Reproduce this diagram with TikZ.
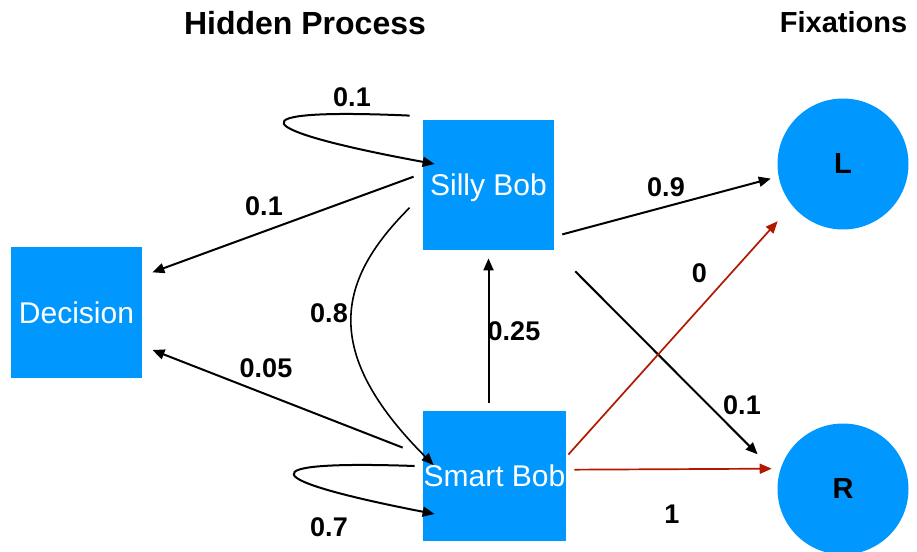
\documentclass[tikz,border=0pt]{standalone}
\usepackage{fontspec}
\setmainfont{Liberation Sans}
\usetikzlibrary{arrows.meta}

\definecolor{bobblue}{RGB}{0,152,255}
\definecolor{fixred}{RGB}{178,24,0}

\begin{document}
\begin{tikzpicture}[x=0.5pt,y=-0.5pt,
  lbl/.style={font=\fontsize{13.5}{16}\selectfont\bfseries},
  ttl/.style={font=\fontsize{14.5}{17}\selectfont\bfseries},
  box/.style={fill=bobblue,inner sep=0pt,text=white,text depth=0pt,
    font=\fontsize{15}{18}\selectfont},
  fix/.style={circle,fill=bobblue,inner sep=0pt,minimum size=65.5pt,
    font=\fontsize{14.5}{17}\selectfont\bfseries},
  tr/.style={line width=1pt,-{Triangle[length=6pt,width=5pt]}},
  trr/.style={tr,line width=0.85pt,fixred},
]

\useasboundingbox (0,0) rectangle (917,552);

% ------------------------------------------------------------------
% states
% ------------------------------------------------------------------
\node[ttl,font=\fontsize{16}{19}\selectfont\bfseries] (hidden)
  at (305,23) {Hidden Process};
\node[ttl] (fixations) at (843.5,22.5) {Fixations};

\node[box,minimum width=65.5pt,minimum height=65.5pt] (decision)
  at (76.5,312.5) {Decision};
\node[box,minimum width=65.5pt,minimum height=65pt] (silly)
  at (488.5,185) {Silly Bob};
\node[box,minimum width=71.5pt,minimum height=65pt] (smart)
  at (494.5,476) {Smart Bob};

\node[fix] (L) at (843,164) {L};
\node[fix] (R) at (843,489) {R};

% ------------------------------------------------------------------
% hidden transitions
% ------------------------------------------------------------------
\draw[tr] ([shift={(-6.5pt,2pt)}]silly.north west)
  .. controls +(-180,-8) and +(-185,-34) .. ([shift={(6pt,10.5pt)}]silly.west);
\node[lbl] (pss) at (352,97.5) {0.1};

\draw[tr,shorten <=4.8pt,shorten >=5.3pt] (silly.170) -- (decision.29);
\node[lbl] (psd) at (264,206) {0.1};

\draw[tr,line width=0.8pt] ([xshift=-6.5pt]silly.199)
  .. controls +(-71,71) and +(-115,-115) .. ([shift={(5.5pt,5.5pt)}]smart.west);
\node[lbl] (psm) at (329,313.5) {0.8};

\draw[tr,shorten <=10.7pt,shorten >=5.4pt] (smart.164) -- (decision.-27);
\node[lbl] (pmd) at (266,368) {0.05};

\draw[tr] ([shift={(-4pt,5pt)}]smart.west)
  .. controls +(-170,-6) and +(-175,-34) .. ([shift={(6pt,-19pt)}]smart.west);
\node[lbl] (pmm) at (329,527) {0.7};

\draw[tr,shorten <=4pt,shorten >=4pt] (smart.north -| silly.south) -- (silly.south);
\node[lbl] (pms) at (514,331) {0.25};

% ------------------------------------------------------------------
% emissions
% ------------------------------------------------------------------
\draw[tr,shorten <=4.1pt,shorten >=3.9pt] (silly.-38) -- (L.191);
\node[lbl] (esl) at (666,187) {0.9};

\draw[tr,shorten <=14.8pt,shorten >=14.8pt] (silly.south east) -- (R.168);
\node[lbl] (esr) at (742,405) {0.1};

\draw[trr,shorten <=1.5pt,shorten >=10.6pt] (smart.15) -- (L.219);
\node[lbl] (eml) at (699.5,273) {0};

\draw[trr,shorten <=4pt,shorten >=4.3pt] (smart.5.6) -- (R.162);
\node[lbl] (emr) at (672,514) {1};

\end{tikzpicture}
\end{document}
